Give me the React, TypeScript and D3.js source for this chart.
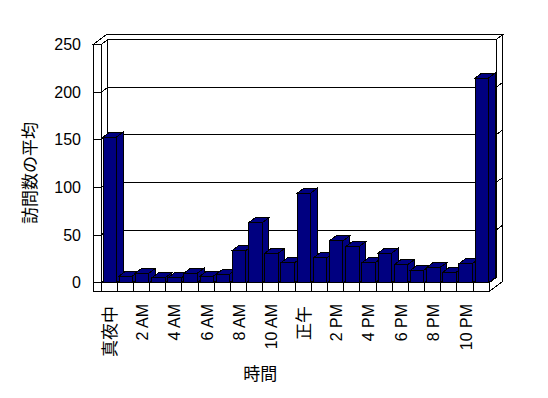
import React from 'react';
import * as d3 from 'd3';

const hours = ['0','1','2','3','4','5','6','7','8','9','10','11','12','13','14','15','16','17','18','19','20','21','22','23'];
const hourLabels = ['真夜中','','2 AM','','4 AM','','6 AM','','8 AM','','10 AM','','正午','','2 PM','','4 PM','','6 PM','','8 PM','','10 PM',''];
const visits = [153, 7, 10, 5, 5, 10, 7, 9, 34, 63, 31, 21, 94, 26, 44, 38, 21, 31, 19, 13, 16, 11, 20, 215];
const yTicks = [0, 50, 100, 150, 200, 250];
const yTitle = '訪問数の平均';
const xTitle = '時間';

const W = 548, H = 398;
const FONT = '"Liberation Sans", "Noto Sans CJK JP", sans-serif';
const NAVY = '#000080';

export default function App() {
  const x = d3.scaleBand<string>().domain(hours).range([101, 489.3]).paddingInner(0).paddingOuter(0);
  const y = d3.scaleLinear().domain([0, 250]).range([282.7, 44.7]);
  const D1 = { x: 6.7, y: -5 };   // plot depth
  const D2 = { x: 6.7, y: -5 };   // wall thickness
  const wallOuterX = 93;
  const floorBottom = 291.3;
  const x0 = x.range()[0], x1 = x.range()[1];
  const y0 = y(0), yTop = y(250);
  const pts = (arr: number[][]) => arr.map(p => p.join(',')).join(' ');
  const stroke = { stroke: '#000', strokeWidth: 1, strokeLinejoin: 'miter' as const };
  const bw = x.bandwidth();

  return (
    <svg width={W} height={H} shapeRendering="crispEdges" style={{ position: 'absolute', left: 0, top: 0, background: '#fff' }}>
      {/* back wall front face */}
      <polygon points={pts([[x0 + D1.x, yTop + D1.y], [x1 + D1.x, yTop + D1.y], [x1 + D1.x, y0 + D1.y], [x0 + D1.x, y0 + D1.y]])} fill="#fff" {...stroke} />
      {/* left wall inner face */}
      <polygon points={pts([[x0, yTop], [x0 + D1.x, yTop + D1.y], [x0 + D1.x, y0 + D1.y], [x0, y0]])} fill="#fff" {...stroke} />
      {/* floor top */}
      <polygon points={pts([[x0, y0], [x1, y0], [x1 + D1.x, y0 + D1.y], [x0 + D1.x, y0 + D1.y]])} fill="#fff" {...stroke} />
      {/* gridlines */}
      {yTicks.map(t => (
        <g key={'g' + t}>
          <line x1={x0 + D1.x} x2={x1 + D1.x} y1={y(t) + D1.y} y2={y(t) + D1.y} {...stroke} />
          <line x1={x0} y1={y(t)} x2={x0 + D1.x} y2={y(t) + D1.y} {...stroke} />
        </g>
      ))}
      {/* bars */}
      {visits.map((v, i) => {
        const bx = (x(hours[i]) as number) + 2;
        const w = bw - 2.7;
        const top = y(v);
        return (
          <g key={'b' + i}>
            <polygon points={pts([[bx + w, top], [bx + w + D1.x, top + D1.y], [bx + w + D1.x, y0 + D1.y], [bx + w, y0]])} fill={NAVY} {...stroke} />
            <polygon points={pts([[bx, top], [bx + D1.x, top + D1.y], [bx + w + D1.x, top + D1.y], [bx + w, top]])} fill={NAVY} {...stroke} />
            <rect x={bx} y={top} width={w} height={y0 - top} fill={NAVY} {...stroke} />
          </g>
        );
      })}
      {/* top of walls */}
      <polygon points={pts([
        [wallOuterX, yTop],
        [wallOuterX + D1.x, yTop + D1.y],
        [wallOuterX + D1.x + D2.x, yTop + D1.y + D2.y],
        [x1 + D1.x + D2.x, yTop + D1.y + D2.y],
        [x1 + D1.x, yTop + D1.y],
        [x0 + D1.x, yTop + D1.y],
        [x0, yTop],
      ])} fill="#fff" {...stroke} />
      {/* right end faces */}
      <polygon points={pts([
        [x1 + D1.x, yTop + D1.y],
        [x1 + D1.x + D2.x, yTop + D1.y + D2.y],
        [x1 + D1.x + D2.x, floorBottom + D1.y + D2.y],
        [x1, floorBottom],
        [x1, y0],
        [x1 + D1.x, y0 + D1.y],
      ])} fill="#fff" {...stroke} />
      {yTicks.slice(1, 5).map(t => (
        <line key={'r' + t} x1={x1 + D1.x} y1={y(t) + D1.y} x2={x1 + D1.x + D2.x} y2={y(t) + D1.y + D2.y} {...stroke} />
      ))}
      {/* left wall front face + floor front face */}
      <polygon points={pts([[wallOuterX, yTop], [x0, yTop], [x0, y0], [x1, y0], [x1, floorBottom], [wallOuterX, floorBottom]])} fill="#fff" {...stroke} />
      {yTicks.map(t => (
        <line key={'t' + t} x1={wallOuterX} x2={x0} y1={y(t)} y2={y(t)} {...stroke} />
      ))}
      {hours.map((h, i) => (
        <line key={'c' + i} x1={x(h) as number} x2={x(h) as number} y1={y0} y2={floorBottom} {...stroke} />
      ))}
      {/* y tick labels */}
      {yTicks.map(t => (
        <text key={'l' + t} x={81} y={y(t)} textAnchor="end" dominantBaseline="central" fontFamily={FONT} fontSize={16} fill="#000">{t}</text>
      ))}
      {/* x labels */}
      {hourLabels.map((lab, i) => {
        if (!lab) return null;
        const cx = (x(hours[i]) as number) + bw / 2 + 1;
        const cjk = /[^\x00-\x7f]/.test(lab);
        return (
          <text key={'x' + i} transform={`translate(${cx},${cjk ? 306 : 304}) rotate(-90)`} textAnchor="end" dominantBaseline="central" fontFamily={FONT} fontSize={cjk ? 17 : 16} fill="#000">{lab}</text>
        );
      })}
      <text transform="translate(30.5,173) rotate(-90)" textAnchor="middle" dominantBaseline="central" fontFamily={FONT} fontSize={17} fill="#000">{yTitle}</text>
      <text x={260.3} y={380} textAnchor="middle" fontFamily={FONT} fontSize={17} fill="#000">{xTitle}</text>
    </svg>
  );
}
